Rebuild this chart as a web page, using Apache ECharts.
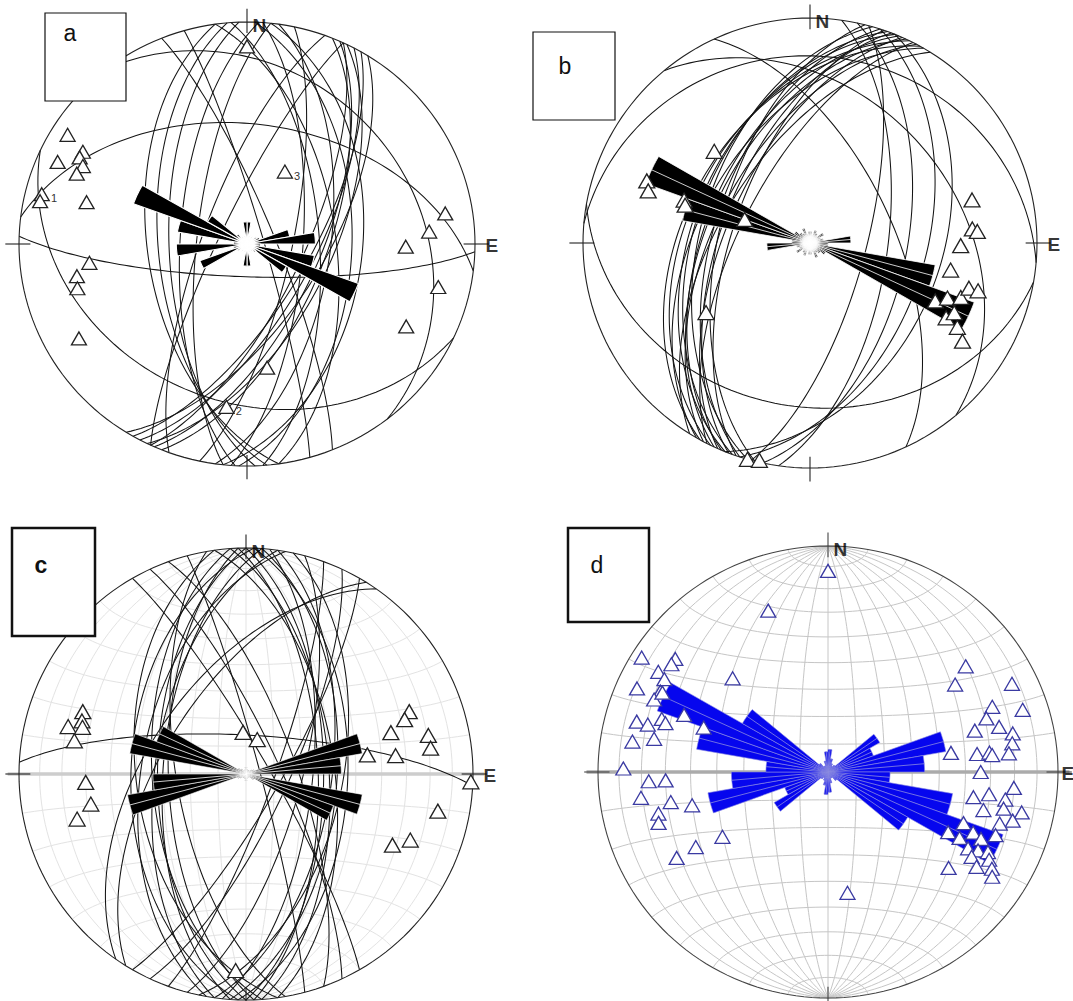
<!DOCTYPE html>
<html>
<head>
<meta charset="utf-8">
<title>stereonets a-d</title>
<script src="https://cdn.jsdelivr.net/npm/echarts@6.0.0/dist/echarts.min.js"></script>
<style>
  html, body { margin: 0; padding: 0; background: #fff; }
  #main { width: 1073px; height: 1001px; }
</style>
</head>
<body>
<div id="main"></div>
<script>
// ---------------- data ----------------
// fault planes: [strike, dip], right hand rule
var planesA = [
  [22, 62], [24, 64], [26, 60], [28, 66], [30, 68], [32, 63], [25, 70],
  [172, 54], [175, 58], [178, 62], [183, 66], [186, 72],
  [2, 52], [6, 48], [352, 58], [356, 64], [4, 70], [8, 60], [12, 74],
  [338, 80], [344, 84], [200, 74], [205, 80],
  [92, 78], [277, 45], [115, 30], [322, 26]
];
var planesB = [
  [194, 57], [196, 50], [198, 55], [199, 62], [200, 48], [201, 58], [202, 47], [203, 52],
  [204, 60], [205, 53], [206, 45], [207, 65], [208, 56], [209, 44], [210, 50], [212, 58],
  [8, 62], [12, 55], [15, 70], [18, 48], [22, 42],
  [320, 35], [100, 28], [275, 18], [335, 60]
];
var planesC = [
  [170, 65], [172, 50], [176, 56], [178, 62], [180, 58], [182, 48], [184, 60], [188, 57], [190, 52],
  [352, 58], [356, 60], [358, 64], [0, 62], [2, 53], [4, 57], [6, 66], [8, 59], [12, 55],
  [330, 82], [335, 78], [340, 72], [345, 85], [15, 70], [20, 80], [25, 75], [30, 78],
  [273, 76], [212, 60], [215, 55]
];

// triangles (striae / axes): [trend, plunge]
var pointsA = [
  [0, 12], [302, 8], [294, 10], [300, 18], [298, 18], [296, 21], [293, 20], [284, 8], [282, 8],
  [285, 28], [263, 31], [259, 25], [255, 24], [240, 16], [27, 60], [171, 43], [187, 27],
  [81, 13], [86, 21], [91, 31], [103, 15], [118, 22]
];
// numbered triangles in a: [index in pointsA, text]
var tagsA = [[7, '1'], [14, '3'], [16, '2']];
var pointsB = [
  [314, 41], [291, 24], [288, 26], [289, 41], [287, 42], [290, 65], [236, 44],
  [75, 27], [85, 29], [86, 27], [91, 34], [101, 37], [115, 39], [112, 35], [110, 30],
  [106, 28], [106, 24], [119, 32], [116, 30], [120, 26], [123, 21], [196, 0], [193, 1]
];
var pointsC = [
  [285, 20], [291, 24], [288, 25], [286, 26], [281, 24], [267, 30], [259, 31], [255, 24],
  [356, 75], [18, 77], [69, 24], [71, 27], [74, 34], [78, 19], [82, 19], [81, 45], [83, 34],
  [92, 1], [101, 15], [116, 29], [112, 23], [183, 14]
];
var pointsD = [
  [0, 12], [340, 25], [302, 5], [307, 18], [305, 18], [301, 15], [294, 10], [300, 19], [296, 20],
  [293, 19], [296, 21], [292, 33], [288, 25], [287, 27], [285, 15], [285, 20], [281, 24], [279, 15],
  [290, 42], [315, 41], [271, 12], [267, 23], [267, 30], [262, 19], [259, 31], [256, 39], [256, 25],
  [253, 24], [238, 45], [240, 34], [240, 25], [171, 45],
  [52, 25], [55, 33], [64, 12], [72, 12], [68, 24], [71, 28], [74, 34], [75, 24], [78, 19], [81, 20],
  [81, 45], [83, 35], [83, 30], [84, 29], [84, 22], [90, 34], [95, 20], [100, 36], [98, 30], [99, 23],
  [102, 15], [104, 31], [102, 23], [105, 18], [107, 23], [117, 41], [111, 37], [113, 32], [114, 28],
  [111, 23], [117, 36], [119, 31], [118, 27], [117, 23], [121, 28], [119, 21], [123, 24], [121, 18],
  [129, 33], [123, 16]
];

// rose diagrams: petal length per 10 deg bin (0-10, 10-20 ... 350-360), % of net radius
var roseA = [10, 4, 3, 4, 3, 5, 6, 19, 30, 6, 30, 52, 20, 5, 4, 3, 4, 10,
             10, 4, 3, 4, 3, 5, 22, 6, 31, 6, 31, 53, 20, 6, 4, 3, 4, 10];
var roseB = [5, 3, 6, 5, 4, 7, 5, 6, 18, 8, 56, 77, 8, 6, 5, 7, 4, 5,
             5, 3, 6, 5, 4, 7, 5, 6, 19, 8, 57, 77, 8, 6, 5, 7, 4, 5];
var roseC = [3, 2, 2, 2, 2, 3, 4, 52, 42, 3, 52, 41, 4, 2, 2, 2, 2, 3,
             3, 2, 2, 2, 2, 3, 4, 53, 41, 3, 52, 42, 4, 3, 2, 2, 2, 3];
var roseD = [10, 6, 4, 3, 4, 26, 21, 52, 42, 27, 55, 81, 40, 5, 3, 3, 5, 9,
             10, 6, 4, 3, 4, 27, 20, 53, 42, 27, 58, 79, 43, 5, 3, 3, 5, 9];

// ---------------- geometry helpers ----------------
var DEG = Math.PI / 180;

// Schmidt net, lower hemisphere; e = east, n = north, u = up (u <= 0)
function project(e, n, u) {
  var k = 1 / Math.sqrt(1 - u);
  return [e * k, n * k];
}
function lineToXY(trend, plunge) {
  var t = trend * DEG, p = plunge * DEG;
  return project(Math.cos(p) * Math.sin(t), Math.cos(p) * Math.cos(t), -Math.sin(p));
}
function greatCircle(strike, dip) {
  var s = strike * DEG, dd = (strike + 90) * DEG, d = dip * DEG;
  var pts = [];
  for (var w = 0; w <= 180; w += 2) {
    var c = Math.cos(w * DEG), sn = Math.sin(w * DEG);
    var e = c * Math.sin(s) + sn * Math.sin(dd) * Math.cos(d);
    var n = c * Math.cos(s) + sn * Math.cos(dd) * Math.cos(d);
    pts.push(project(e, n, -sn * Math.sin(d)));
  }
  return pts;
}
// small circle around the N (sign 1) or S (sign -1) horizontal axis
function smallCircle(alpha, sign) {
  var a = alpha * DEG, pts = [];
  for (var f = 180; f <= 360; f += 3) {
    pts.push(project(Math.sin(a) * Math.cos(f * DEG), sign * Math.cos(a), Math.sin(a) * Math.sin(f * DEG)));
  }
  return pts;
}
function circle(r) {
  var pts = [];
  for (var a = 0; a <= 360; a += 2) pts.push([r * Math.sin(a * DEG), r * Math.cos(a * DEG)]);
  return pts;
}
function netLines() {
  var out = [];
  for (var d = 10; d < 90; d += 10) {
    out.push(greatCircle(0, d));
    out.push(greatCircle(180, d));
    out.push(smallCircle(d, 1));
    out.push(smallCircle(d, -1));
  }
  out.push([[0, -1], [0, 1]]);
  return out;
}

// ---------------- panels ----------------
var panels = [
  { cx: 247, cy: 244, rx: 228, ry: 222, planes: planesA, points: pointsA, tags: tagsA, rose: roseA,
    net: null, prim: '#222', fill: '#000', edge: '#fff', edgeW: 1.1, mid: false, halo: 13,
    tri: '#222', triSize: [15, 13], eOff: [5, 1] },
  { cx: 810, cy: 243, rx: 227, ry: 225, planes: planesB, points: pointsB, tags: [], rose: roseB,
    net: null, prim: '#222', fill: '#000', edge: '#fff', edgeW: 0.8, mid: true, halo: 11,
    tri: '#222', triSize: [16, 14], eOff: [5, 1] },
  { cx: 246, cy: 774, rx: 227, ry: 226, planes: planesC, points: pointsC, tags: [], rose: roseC,
    net: '#e3e3e3', equator: '#cdcdcd', prim: '#222', fill: '#000', edge: '#fff', edgeW: 0.6, mid: true, halo: 0,
    tri: '#222', triSize: [16, 14], eOff: [5, 1] },
  { cx: 828, cy: 772, rx: 230, ry: 226, planes: [], points: pointsD, tags: [], rose: roseD,
    net: '#c6c6c6', equator: '#ababab', prim: '#444', fill: '#0606ee', edge: '#8b8be0', edgeW: 0.6, mid: true, halo: 0,
    tri: '#3a3aa2', triSize: [15, 13], eOff: [-2, 1] }
];

var grids = [], xAxes = [], yAxes = [], series = [];

function roseRender(p) {
  return function (params, api) {
    var a0 = api.value(0), a1 = api.value(1), r = api.value(2) / 100;
    var c = api.coord([0, 0]);
    var pts = [c];
    for (var k = 0; k <= 10; k++) {
      var a = (a0 + (a1 - a0) * k / 10) * DEG;
      pts.push(api.coord([r * Math.sin(a), r * Math.cos(a)]));
    }
    var am = (a0 + a1) / 2 * DEG;
    var m = api.coord([r * Math.sin(am), r * Math.cos(am)]);
    var kids = [{ type: 'polygon', shape: { points: pts }, style: { fill: p.fill, stroke: p.edge, lineWidth: p.edgeW } }];
    if (p.mid) {
      kids.push({ type: 'line', shape: { x1: c[0], y1: c[1], x2: m[0], y2: m[1] }, style: { stroke: p.edge, lineWidth: 0.8 } });
    }
    return { type: 'group', children: kids };
  };
}

// soft white glow over the rose centre (as in panels a and b)
function haloRender(p) {
  return function (params, api) {
    var c = api.coord([0, 0]);
    return {
      type: 'circle', shape: { cx: c[0], cy: c[1], r: p.halo },
      style: {
        fill: new echarts.graphic.RadialGradient(0.5, 0.5, 0.5, [
          { offset: 0, color: 'rgba(255,255,255,1)' },
          { offset: 0.6, color: 'rgba(255,255,255,0.85)' },
          { offset: 1, color: 'rgba(255,255,255,0)' }
        ])
      }
    };
  };
}

panels.forEach(function (p, i) {
  // the grid is exactly the primitive circle's box; ticks and N/E are drawn outside it
  grids.push({ left: p.cx - p.rx, top: p.cy - p.ry, width: 2 * p.rx, height: 2 * p.ry });
  xAxes.push({ gridIndex: i, type: 'value', min: -1, max: 1, show: false });
  yAxes.push({ gridIndex: i, type: 'value', min: -1, max: 1, show: false });

  var base = { xAxisIndex: i, yAxisIndex: i, silent: true, animation: false, clip: false };

  if (p.net) {
    series.push(Object.assign({}, base, {
      type: 'lines', coordinateSystem: 'cartesian2d', polyline: true, z: 1,
      data: netLines().map(function (c) { return { coords: c }; }),
      lineStyle: { color: p.net, width: 1, opacity: 1 }
    }));
    series.push(Object.assign({}, base, {
      type: 'lines', coordinateSystem: 'cartesian2d', polyline: true, z: 1,
      data: [{ coords: [[-1.05, 0], [1.05, 0]] }],
      lineStyle: { color: p.equator, width: 3.5, opacity: 1 }
    }));
  }

  // fault planes
  series.push(Object.assign({}, base, {
    type: 'lines', coordinateSystem: 'cartesian2d', polyline: true, z: 2,
    data: p.planes.map(function (pl) { return { coords: greatCircle(pl[0], pl[1]) }; }),
    lineStyle: { color: '#141414', width: 1.05, opacity: 1 }
  }));

  // primitive and N E S W ticks
  var ticks = [
    [[0, 0.95], [0, 1.06]], [[0, -0.95], [0, -1.06]],
    [[0.95, 0], [1.06, 0]], [[-1.06, 0], [-0.95, 0]]
  ];
  series.push(Object.assign({}, base, {
    type: 'lines', coordinateSystem: 'cartesian2d', polyline: true, z: 3,
    data: [{ coords: circle(1) }].concat(ticks.map(function (t) { return { coords: t }; })),
    lineStyle: { color: p.prim, width: 1.1, opacity: 1 }
  }));

  // rose diagram
  series.push(Object.assign({}, base, {
    type: 'custom', z: 4,
    renderItem: roseRender(p),
    data: p.rose.map(function (v, k) { return [k * 10, k * 10 + 10, v]; })
  }));
  if (p.halo) {
    series.push(Object.assign({}, base, { type: 'custom', z: 5, renderItem: haloRender(p), data: [[0, 0]] }));
  }

  // triangles, always above the rose
  var tagMap = {};
  p.tags.forEach(function (t) { tagMap[t[0]] = t[1]; });
  series.push(Object.assign({}, base, {
    type: 'scatter', z: 10, symbol: 'triangle', symbolSize: p.triSize,
    itemStyle: { color: '#ffffff', borderColor: p.tri, borderWidth: 1.3, opacity: 1 },
    data: p.points.map(function (pt, k) {
      var item = { value: lineToXY(pt[0], pt[1]) };
      if (tagMap[k]) {
        item.label = { show: true, formatter: tagMap[k], position: 'right', distance: 1, offset: [0, 4],
          fontSize: 11, color: '#333', fontFamily: 'Liberation Sans' };
      }
      return item;
    })
  }));

  // N and E
  series.push(Object.assign({}, base, {
    type: 'scatter', z: 12, symbolSize: 1, itemStyle: { color: 'rgba(0,0,0,0)' },
    label: { show: true, position: 'right', color: '#000', fontSize: 19, fontWeight: 'bold', fontFamily: 'Liberation Sans',
      formatter: function (d) { return d.name; } },
    data: [
      { name: 'N', value: [0, 1], label: { offset: [0, 3] } },
      { name: 'E', value: [1, 0], label: { offset: p.eOff } }
    ]
  }));
});

// panel letter boxes
var boxes = [
  { x: 45, y: 13, w: 81, h: 88, lw: 1.2, t: 'a', tx: 70, ty: 33, bold: 'normal' },
  { x: 533, y: 32, w: 82, h: 88, lw: 1.2, t: 'b', tx: 565, ty: 66, bold: 'normal' },
  { x: 12, y: 528, w: 83, h: 108, lw: 2.5, t: 'c', tx: 41, ty: 565, bold: 'bold' },
  { x: 568, y: 528, w: 81, h: 94, lw: 2.5, t: 'd', tx: 597, ty: 565, bold: 'normal' }
];
var graphics = [];
boxes.forEach(function (b) {
  graphics.push({ type: 'rect', z: 100, shape: { x: b.x, y: b.y, width: b.w, height: b.h },
    style: { fill: '#fff', stroke: '#111', lineWidth: b.lw } });
  graphics.push({ type: 'text', z: 101, x: b.tx, y: b.ty,
    style: { text: b.t, fill: '#111', font: b.bold + ' 23px "Liberation Sans"', textAlign: 'center', textVerticalAlign: 'middle' } });
});

var chart = echarts.init(document.getElementById('main'), null, { renderer: 'svg' });
chart.setOption({
  animation: false,
  backgroundColor: '#fff',
  grid: grids,
  xAxis: xAxes,
  yAxis: yAxes,
  series: series,
  graphic: graphics
});
</script>
</body>
</html>
